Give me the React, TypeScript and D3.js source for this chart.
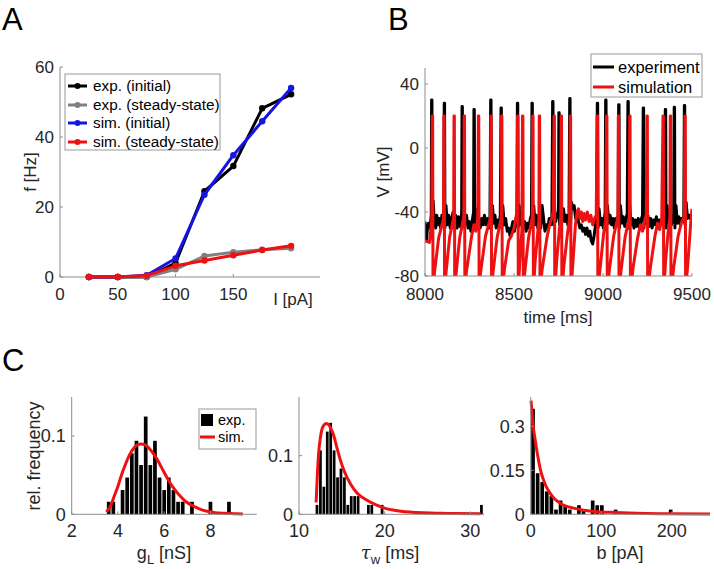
import React from 'react';
import * as d3 from 'd3';

const FONT = "'Liberation Sans', Arial, Helvetica, sans-serif";
const TXT = '#262626';
const AXC = '#8c8c8c';
const RED = '#ee1111';
const BLUE = '#1414e6';
const GRAY = '#808080';

// ---------- Panel A ----------
const currentsA = [25, 50, 75, 100, 125, 150, 175, 200];
const expInitial = [0, 0, 0, 4, 24.5, 31.7, 48.2, 52.2];
const expSteady = [0, 0, 0, 2.2, 6, 7.1, 7.8, 8.2];
const simInitial = [0, 0, 0.5, 5.3, 23.5, 34.8, 44.5, 54];
const simSteady = [0, 0, 0.4, 3.2, 4.7, 6.2, 7.7, 8.9];
const aLegend = ['exp. (initial)', 'exp. (steady-state)', 'sim. (initial)', 'sim. (steady-state)'];
const aXTicks = [0, 50, 100, 150];
const aYTicks = [0, 20, 40, 60];

// ---------- Panel B ----------
const expTrace: [number, number][] = [
  [8000,-46],[8004,-52],[8008,-58],[8014,-50],[8020,-47],[8026,-50],[8032,-46],[8035,-42],[8037,30],[8039,30],[8041,-50],[8046,-33],[8052,-46],[8060,-50],[8066,-42],[8072,-48],[8080,-44],[8088,-50],[8095,-42],[8103,-46],[8106,-40],[8108,28],[8110,28],[8112,-50],[8118,-36],[8125,-48],[8133,-42],[8142,-50],[8150,-44],[8158,-40],[8165,-47],[8172,-42],[8180,-50],[8188,-43],[8196,-49],[8203,-44],[8206,-40],[8208,26],[8210,26],[8212,-48],[8218,-34],[8225,-47],[8233,-42],[8242,-50],[8250,-46],[8258,-52],[8266,-45],[8273,-40],[8275,24],[8277,24],[8279,-50],[8285,-38],[8292,-48],[8300,-43],[8310,-50],[8318,-44],[8326,-48],[8334,-42],[8342,-48],[8350,-44],[8358,-50],[8365,-43],[8369,30],[8371,30],[8373,-50],[8379,-36],[8386,-47],[8393,-42],[8400,-50],[8408,-45],[8416,-49],[8423,-42],[8427,25],[8429,25],[8431,-50],[8437,-36],[8445,-48],[8453,-44],[8462,-52],[8470,-50],[8478,-55],[8486,-50],[8494,-46],[8502,-52],[8510,-45],[8516,-42],[8519,28],[8521,28],[8523,-50],[8529,-36],[8536,-48],[8544,-43],[8552,-50],[8560,-46],[8568,-52],[8576,-47],[8584,-50],[8592,-44],[8598,-42],[8601,28],[8603,28],[8605,-50],[8611,-36],[8618,-48],[8626,-42],[8634,-50],[8642,-46],[8650,-50],[8658,-36],[8666,-44],[8674,-52],[8682,-48],[8690,-50],[8698,-44],[8706,-48],[8713,-42],[8717,29],[8719,29],[8721,-48],[8727,-36],[8734,-46],[8742,-42],[8750,-40],[8752,22],[8754,22],[8756,-48],[8762,-38],[8770,-46],[8778,-38],[8786,-46],[8794,-42],[8802,-48],[8809,-42],[8813,31],[8815,31],[8817,-50],[8823,-34],[8830,-38],[8838,-36],[8846,-44],[8854,-40],[8862,-46],[8870,-50],[8878,-48],[8886,-52],[8894,-50],[8902,-54],[8910,-50],[8918,-55],[8926,-52],[8934,-58],[8942,-60],[8950,-55],[8958,-48],[8964,-42],[8968,28],[8970,28],[8972,-50],[8978,-38],[8986,-48],[8994,-44],[9002,-50],[9008,-44],[9012,-40],[9015,30],[9017,30],[9019,-50],[9025,-36],[9032,-47],[9040,-42],[9048,-48],[9056,-44],[9064,-50],[9072,-44],[9080,-46],[9085,-42],[9088,27],[9090,27],[9092,-50],[9098,-36],[9106,-47],[9114,-43],[9122,-49],[9130,-44],[9136,-41],[9140,29],[9142,29],[9144,-50],[9150,-36],[9158,-48],[9166,-44],[9174,-50],[9182,-45],[9190,-49],[9198,-44],[9206,-50],[9214,-45],[9222,-42],[9226,25],[9228,25],[9230,-50],[9236,-36],[9244,-47],[9252,-42],[9260,-49],[9268,-44],[9276,-50],[9284,-45],[9292,-48],[9300,-43],[9308,-50],[9316,-45],[9324,-48],[9332,-44],[9340,-47],[9346,-42],[9350,24],[9352,24],[9354,-50],[9360,-36],[9368,-47],[9376,-43],[9384,-48],[9392,-44],[9397,-41],[9400,25.5],[9402,25.5],[9404,-50],[9410,-36],[9418,-47],[9426,-43],[9434,-48],[9442,-44],[9450,-46],[9454,-42],[9457,26.5],[9459,26.5],[9461,-48],[9467,-34],[9475,-44],[9483,-42],[9490,-44],[9500,-42]
];
const simTrace: [number, number][] = [
  [8000,-58],[8025,-59],[8032,-52],[8038,-45],[8041,20],[8043,20],[8045,-90],
  [8053,-78],[8077,-56],[8098,-47],[8104,-44],[8106,20],[8108,20],[8110,-90],
  [8118,-78],[8138,-56],[8156,-46],[8161,-44],[8163,20],[8165,20],[8167,-90],
  [8175,-78],[8195,-56],[8213,-46],[8218,-43],[8220,20],[8222,20],[8224,-90],
  [8232,-78],[8262,-55],[8275,-48],[8285,-52],[8296,-44],[8300,20],[8302,20],[8304,-90],
  [8312,-78],[8340,-55],[8362,-46],[8368,-43],[8370,20],[8372,20],[8374,-90],
  [8382,-78],[8405,-56],[8424,-46],[8428,-43],[8430,20],[8432,20],[8434,-90],
  [8446,-76],[8470,-58],[8485,-55],[8500,-50],[8513,-42],[8518,-40],[8520,20],[8522,20],[8524,-90],
  [8532,-72],[8544,-52],[8548,20],[8550,20],[8552,-90],
  [8560,-78],[8582,-56],[8598,-46],[8603,-43],[8605,20],[8607,20],[8609,-90],
  [8618,-72],[8634,-52],[8640,-45],[8642,20],[8644,20],[8646,-90],
  [8658,-76],[8685,-56],[8700,-48],[8712,-44],[8720,-40],[8725,20],[8727,20],[8729,-90],
  [8740,-70],[8756,-50],[8763,-43],[8765,20],[8767,20],[8769,-90],
  [8780,-74],[8800,-54],[8812,-44],[8816,20],[8818,20],[8820,-90],
  [8832,-70],[8845,-48],[8855,-40],[8862,-38],[8870,-44],[8878,-40],[8886,-46],[8894,-41],[8902,-45],[8912,-40],[8922,-46],[8932,-42],[8942,-48],[8952,-44],[8962,-42],[8967,20],[8969,20],[8971,-90],
  [8983,-76],[9003,-54],[9015,-45],[9020,20],[9022,20],[9024,-90],
  [9036,-76],[9060,-55],[9078,-46],[9084,-43],[9086,20],[9088,20],[9090,-90],
  [9102,-76],[9125,-55],[9143,-46],[9148,-43],[9150,20],[9152,20],[9154,-90],
  [9170,-74],[9195,-56],[9210,-48],[9222,-52],[9235,-45],[9243,-42],[9247,20],[9249,20],[9251,-90],
  [9267,-74],[9292,-55],[9306,-47],[9318,-51],[9330,-44],[9337,20],[9339,20],[9341,-90],
  [9352,-70],[9368,-50],[9376,-43],[9378,20],[9380,20],[9382,-90],
  [9398,-74],[9422,-55],[9440,-47],[9452,-44],[9457,-42],[9460,20],[9462,20],[9464,-90],
  [9478,-70],[9492,-48],[9500,-38]
];
const bLegend = ['experiment', 'simulation'];
const bXTicks = [8000, 8500, 9000, 9500];
const bYTicks = [-80, -40, 0, 40];

// ---------- Panel C ----------
const gLCenters = [3.6, 3.8, 4.2, 4.4, 4.6, 4.8, 5.0, 5.2, 5.4, 5.6, 5.8, 6.0, 6.2, 6.4, 6.6, 6.8, 7.2, 8.0, 8.8];
const gLFreq = [0.016, 0.016, 0.031, 0.047, 0.078, 0.094, 0.063, 0.125, 0.063, 0.094, 0.047, 0.031, 0.047, 0.031, 0.016, 0.016, 0.016, 0.016, 0.016];
const gLFitX = [3.5, 3.7, 3.85, 4.0, 4.15, 4.3, 4.5, 4.7, 4.85, 5.0, 5.15, 5.3, 5.5, 5.7, 5.9, 6.1, 6.3, 6.5, 6.7, 6.9, 7.1, 7.3, 7.6, 7.9, 8.2, 8.6, 9.0, 9.4];
const gLFitY = [0.003, 0.012, 0.024, 0.036, 0.050, 0.062, 0.076, 0.085, 0.089, 0.090, 0.089, 0.086, 0.079, 0.070, 0.059, 0.048, 0.038, 0.030, 0.023, 0.017, 0.013, 0.010, 0.006, 0.0035, 0.002, 0.0012, 0.0008, 0.0005];

const tauCenters = [12.1, 12.5, 12.9, 13.3, 13.7, 14.1, 14.5, 14.9, 15.3, 15.7, 16.1, 16.5, 16.9, 18.1, 18.5, 19.7, 31.3];
const tauFreq = [0.016, 0.109, 0.047, 0.141, 0.156, 0.109, 0.063, 0.078, 0.063, 0.016, 0.031, 0.031, 0.031, 0.016, 0.016, 0.016, 0.016];
const tauFitX = [12.0, 12.12, 12.3, 12.5, 12.7, 12.9, 13.2, 13.5, 13.8, 14.06, 14.4, 14.84, 15.3, 16.0, 16.8, 17.95, 19.0, 19.9, 21.5, 23.8, 26, 28, 31.2];
const tauFitY = [0.02, 0.06, 0.105, 0.131, 0.146, 0.152, 0.155, 0.152, 0.144, 0.134, 0.115, 0.092, 0.073, 0.052, 0.036, 0.024, 0.016, 0.011, 0.006, 0.003, 0.002, 0.0012, 0.001];

const bCenters = [3.3, 9.8, 16.3, 22.8, 29.3, 35.8, 42.3, 48.8, 55.3, 68.3, 74.8, 87.8, 94.3, 100.8, 120.3, 198.3];
const bFreq = [0.36, 0.14, 0.11, 0.078, 0.062, 0.016, 0.047, 0.031, 0.016, 0.031, 0.016, 0.047, 0.031, 0.031, 0.016, 0.016];
const bFitX = [0.5, 2, 4, 6.2, 8.5, 10.9, 14, 18, 22, 27.4, 34, 41.6, 50, 60.5, 75, 93.6, 120, 150, 190, 254];
const bFitY = [0.388, 0.34, 0.29, 0.256, 0.22, 0.187, 0.15, 0.118, 0.094, 0.072, 0.052, 0.038, 0.028, 0.021, 0.014, 0.009, 0.006, 0.0035, 0.002, 0.001];

const cLegend = ['exp.', 'sim.'];

type Scale = d3.ScaleLinear<number, number>;

function LeftAxis({ x, y, ticks, fs, top }: { x: number; y: Scale; ticks: number[]; fs: number; top: number }) {
  const [r0] = y.range();
  return (
    <g>
      <line x1={x} x2={x} y1={r0} y2={top} stroke={AXC} strokeWidth={1} />
      {ticks.map((t) => (
        <g key={t}>
          <line x1={x} x2={x + 3} y1={y(t)} y2={y(t)} stroke={AXC} />
          <text x={x - 6} y={y(t)} dy="0.35em" textAnchor="end" fontSize={fs} fill={TXT} fontFamily={FONT}>
            {String(t)}
          </text>
        </g>
      ))}
    </g>
  );
}

function BottomAxis({ y, x, ticks, fs, baseline, right }: { y: number; x: Scale; ticks: number[]; fs: number; baseline: number; right: number }) {
  const [r0] = x.range();
  return (
    <g>
      <line x1={r0} x2={right} y1={y} y2={y} stroke={AXC} strokeWidth={1} />
      {ticks.map((t) => (
        <g key={t}>
          <line x1={x(t)} x2={x(t)} y1={y} y2={y - 3} stroke={AXC} />
          <text x={x(t)} y={baseline} textAnchor="middle" fontSize={fs} fill={TXT} fontFamily={FONT}>
            {String(t)}
          </text>
        </g>
      ))}
    </g>
  );
}

function Hist({ centers, freq, fitX, fitY, xs, ys, width }: { centers: number[]; freq: number[]; fitX: number[]; fitY: number[]; xs: Scale; ys: Scale; width: number }) {
  const line = d3.line<number>().x((_, i) => xs(fitX[i])).y((d) => ys(d)).curve(d3.curveMonotoneX);
  return (
    <g>
      {centers.map((c, i) => {
        const x0 = xs(c - width * 0.4);
        const x1 = xs(c + width * 0.4);
        return <rect key={i} x={x0} y={ys(freq[i])} width={x1 - x0} height={ys(0) - ys(freq[i])} fill="#000" />;
      })}
      <path d={line(fitY) || ''} fill="none" stroke={RED} strokeWidth={3} />
    </g>
  );
}

export default function App() {
  // Panel A
  const axA = d3.scaleLinear().domain([0, 225]).range([60, 320]);
  const ayA = d3.scaleLinear().domain([0, 60]).range([277, 67]);
  const seriesA = [
    { v: expInitial, c: '#000' },
    { v: expSteady, c: GRAY },
    { v: simInitial, c: BLUE },
    { v: simSteady, c: RED },
  ];
  const lineA = d3.line<number>().x((_, i) => axA(currentsA[i])).y((d) => ayA(d));

  // Panel B
  const axB = d3.scaleLinear().domain([8000, 9500]).range([425, 692]);
  const ayB = d3.scaleLinear().domain([-80, 50]).range([276, 68]);
  const lineB = d3.line<[number, number]>().x((d) => axB(d[0])).y((d) => ayB(d[1]));

  // Panel C
  const x1 = d3.scaleLinear().domain([2, 10]).range([71.7, 256.7]);
  const y1 = d3.scaleLinear().domain([0, 0.15]).range([514.3, 397]);
  const x2 = d3.scaleLinear().domain([10, 31.6]).range([299, 484]);
  const y2 = d3.scaleLinear().domain([0, 0.2]).range([514.3, 397]);
  const x3 = d3.scaleLinear().domain([0, 254]).range([530.7, 710]);
  const y3 = d3.scaleLinear().domain([0, 0.4]).range([514.3, 397]);

  const legAY = [86, 105, 123, 142];

  return (
    <svg width={714} height={569} style={{ position: 'absolute', left: 0, top: 0, background: '#fff' }} fontFamily={FONT}>
      <rect x={0} y={0} width={714} height={569} fill="#fff" />
      <defs>
        <clipPath id="clipB">
          <rect x={425} y={68} width={267} height={208} />
        </clipPath>
      </defs>

      {/* Panel labels */}
      <text x={2} y={30} fontSize={31} fill="#000">A</text>
      <text x={388} y={30} fontSize={31} fill="#000">B</text>
      <text x={2} y={371} fontSize={31} fill="#000">C</text>

      {/* ---------- Panel A ---------- */}
      <LeftAxis x={60} y={ayA} ticks={aYTicks} fs={17} top={67} />
      <BottomAxis y={277} x={axA} ticks={aXTicks} fs={17} baseline={300} right={320} />
      {seriesA.map((s, k) => (
        <g key={k}>
          <path d={lineA(s.v) || ''} fill="none" stroke={s.c} strokeWidth={3} strokeLinejoin="round" />
          {s.v.map((d, i) => (
            <circle key={i} cx={axA(currentsA[i])} cy={ayA(d)} r={3.2} fill={s.c} />
          ))}
        </g>
      ))}
      <text x={293} y={305} textAnchor="middle" fontSize={17} fill={TXT}>I [pA]</text>
      <text transform="translate(36,172) rotate(-90)" textAnchor="middle" fontSize={17} fill={TXT}>f [Hz]</text>
      <rect x={65} y={74} width={155} height={76} fill="#fff" stroke="#999" strokeWidth={1} />
      {aLegend.map((l, i) => (
        <g key={l}>
          <line x1={68} x2={87} y1={legAY[i]} y2={legAY[i]} stroke={seriesA[i].c} strokeWidth={3} />
          <circle cx={77.5} cy={legAY[i]} r={3} fill={seriesA[i].c} />
          <text x={93} y={legAY[i]} dy="0.35em" fontSize={15.3} fill="#000">{l}</text>
        </g>
      ))}

      {/* ---------- Panel B ---------- */}
      <g clipPath="url(#clipB)">
        <path d={lineB(expTrace) || ''} fill="none" stroke="#000" strokeWidth={3} strokeLinejoin="round" />
        <path d={lineB(simTrace) || ''} fill="none" stroke={RED} strokeWidth={3} strokeLinejoin="round" />
      </g>
      <LeftAxis x={425} y={ayB} ticks={bYTicks} fs={17} top={68} />
      <BottomAxis y={276} x={axB} ticks={bXTicks} fs={17} baseline={300} right={692} />
      <text x={558} y={323} textAnchor="middle" fontSize={17} fill={TXT}>time [ms]</text>
      <text transform="translate(389,172) rotate(-90)" textAnchor="middle" fontSize={17} fill={TXT}>V [mV]</text>
      <rect x={591} y={54} width={111} height={43} fill="#fff" stroke="#999" strokeWidth={1} />
      {bLegend.map((l, i) => (
        <g key={l}>
          <line x1={593} x2={614} y1={67 + i * 20} y2={67 + i * 20} stroke={i === 0 ? '#000' : RED} strokeWidth={3} />
          <text x={618} y={67 + i * 20} dy="0.35em" fontSize={16.5} fill="#000">{l}</text>
        </g>
      ))}

      {/* ---------- Panel C ---------- */}
      <Hist centers={gLCenters} freq={gLFreq} fitX={gLFitX} fitY={gLFitY} xs={x1} ys={y1} width={0.2} />
      <LeftAxis x={71.7} y={y1} ticks={[0, 0.1]} fs={18} top={397} />
      <BottomAxis y={514.3} x={x1} ticks={[2, 4, 6, 8]} fs={18} baseline={537} right={256.7} />
      <text x={164} y={559} textAnchor="middle" fontSize={18} fill={TXT}>
        g<tspan fontSize={13} dy={5}>L</tspan><tspan dy={-5}> [nS]</tspan>
      </text>
      <text transform="translate(40,456) rotate(-90)" textAnchor="middle" fontSize={18} fill={TXT}>rel. frequency</text>
      <rect x={199} y={409} width={57} height={40} fill="#fff" stroke="#999" strokeWidth={1} />
      <rect x={201} y={414} width={12} height={12} fill="#000" />
      <text x={218} y={420} dy="0.35em" fontSize={14.5} fill="#000">{cLegend[0]}</text>
      <line x1={200} x2={215} y1={437} y2={437} stroke={RED} strokeWidth={3} />
      <text x={218} y={437} dy="0.35em" fontSize={14.5} fill="#000">{cLegend[1]}</text>

      <Hist centers={tauCenters} freq={tauFreq} fitX={tauFitX} fitY={tauFitY} xs={x2} ys={y2} width={0.4} />
      <LeftAxis x={299} y={y2} ticks={[0, 0.1]} fs={18} top={397} />
      <BottomAxis y={514.3} x={x2} ticks={[10, 20, 30]} fs={18} baseline={537} right={484} />
      <text x={390} y={559} textAnchor="middle" fontSize={18} fill={TXT}>
        <tspan fontStyle="italic" fontFamily="'DejaVu Serif', serif">τ</tspan><tspan fontSize={13} dy={5}>w</tspan><tspan dy={-5}> [ms]</tspan>
      </text>

      <Hist centers={bCenters} freq={bFreq} fitX={bFitX} fitY={bFitY} xs={x3} ys={y3} width={6.5} />
      <LeftAxis x={530.7} y={y3} ticks={[0, 0.15, 0.3]} fs={18} top={397} />
      <BottomAxis y={514.3} x={x3} ticks={[0, 100, 200]} fs={18} baseline={537} right={710} />
      <text x={620} y={559} textAnchor="middle" fontSize={18} fill={TXT}>b [pA]</text>
    </svg>
  );
}
